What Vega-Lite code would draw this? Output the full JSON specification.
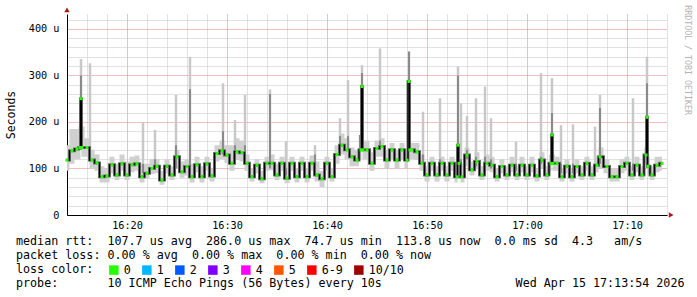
{
 "width": 600, "height": 201,
 "autosize": {"type": "none"},
 "padding": {"left": 67, "top": 14, "right": 30, "bottom": 82},
 "config": {"view": {"stroke": null},
   "axis": {"labelFont": "DejaVu Sans Mono", "titleFont": "DejaVu Sans Mono", "labelColor": "#000", "titleColor": "#000", "titleFontWeight": "normal"}},
 "title": {
   "text": ["median rtt:\u00a0\u00a0107.7 us avg\u00a0\u00a0286.0 us max\u00a0\u00a074.7 us min\u00a0\u00a0113.8 us now\u00a0\u00a00.0 ms sd\u00a0\u00a04.3\u00a0\u00a0\u00a0am/s",
            "packet loss: 0.00 % avg\u00a0\u00a00.00 % max\u00a0\u00a00.00 % min\u00a0\u00a00.00 % now",
            "loss color:",
            "probe:\u00a0\u00a0\u00a0\u00a0\u00a0\u00a0\u00a010 ICMP Echo Pings (56 Bytes) every 10s\u00a0\u00a0\u00a0\u00a0\u00a0\u00a0\u00a0\u00a0\u00a0\u00a0\u00a0\u00a0\u00a0\u00a0\u00a0\u00a0\u00a0\u00a0\u00a0Wed Apr 15 17:13:54 2026"],
   "orient": "bottom", "anchor": "start", "frame": "group", "dx": -51, "offset": -41,
   "font": "DejaVu Sans Mono", "fontSize": 11.7, "fontWeight": "normal", "color": "#000", "lineHeight": 14
 },
 "datasets": {
  "main": [
   {"t":"2026-04-15T16:14:00","med":118,"lo":95,"hi":150,"loss":"0"},
   {"t":"2026-04-15T16:14:30","med":138,"lo":110,"hi":185,"loss":"0"},
   {"t":"2026-04-15T16:15:00","med":142,"lo":120,"hi":185,"loss":"0"},
   {"t":"2026-04-15T16:15:18","med":145,"lo":120,"hi":190,"loss":"0"},
   {"t":"2026-04-15T16:15:24","med":250,"lo":140,"hi":255,"loss":"0"},
   {"t":"2026-04-15T16:15:30","med":145,"lo":125,"hi":190,"loss":"0"},
   {"t":"2026-04-15T16:16:00","med":145,"lo":125,"hi":165,"loss":"0"},
   {"t":"2026-04-15T16:16:30","med":118,"lo":100,"hi":140,"loss":"0"},
   {"t":"2026-04-15T16:17:00","med":112,"lo":95,"hi":130,"loss":"0"},
   {"t":"2026-04-15T16:17:30","med":82,"lo":70,"hi":105,"loss":"0"},
   {"t":"2026-04-15T16:18:00","med":84,"lo":70,"hi":100,"loss":"0"},
   {"t":"2026-04-15T16:18:30","med":108,"lo":90,"hi":125,"loss":"0"},
   {"t":"2026-04-15T16:19:00","med":86,"lo":75,"hi":110,"loss":"0"},
   {"t":"2026-04-15T16:19:30","med":110,"lo":95,"hi":130,"loss":"0"},
   {"t":"2026-04-15T16:20:00","med":86,"lo":75,"hi":115,"loss":"0"},
   {"t":"2026-04-15T16:20:30","med":108,"lo":92,"hi":125,"loss":"0"},
   {"t":"2026-04-15T16:21:00","med":110,"lo":95,"hi":128,"loss":"0"},
   {"t":"2026-04-15T16:21:30","med":82,"lo":70,"hi":110,"loss":"0"},
   {"t":"2026-04-15T16:22:00","med":90,"lo":78,"hi":110,"loss":"0"},
   {"t":"2026-04-15T16:22:30","med":100,"lo":88,"hi":120,"loss":"0"},
   {"t":"2026-04-15T16:23:00","med":105,"lo":90,"hi":120,"loss":"0"},
   {"t":"2026-04-15T16:23:30","med":75,"lo":65,"hi":95,"loss":"0"},
   {"t":"2026-04-15T16:24:00","med":105,"lo":90,"hi":120,"loss":"0"},
   {"t":"2026-04-15T16:24:30","med":86,"lo":75,"hi":105,"loss":"0"},
   {"t":"2026-04-15T16:25:00","med":125,"lo":100,"hi":140,"loss":"0"},
   {"t":"2026-04-15T16:25:30","med":93,"lo":80,"hi":115,"loss":"0"},
   {"t":"2026-04-15T16:26:00","med":104,"lo":85,"hi":120,"loss":"0"},
   {"t":"2026-04-15T16:26:30","med":82,"lo":70,"hi":110,"loss":"0"},
   {"t":"2026-04-15T16:27:00","med":108,"lo":92,"hi":125,"loss":"0"},
   {"t":"2026-04-15T16:27:30","med":82,"lo":70,"hi":105,"loss":"0"},
   {"t":"2026-04-15T16:28:00","med":110,"lo":95,"hi":125,"loss":"0"},
   {"t":"2026-04-15T16:28:30","med":84,"lo":72,"hi":100,"loss":"0"},
   {"t":"2026-04-15T16:29:00","med":132,"lo":115,"hi":150,"loss":"0"},
   {"t":"2026-04-15T16:29:30","med":138,"lo":120,"hi":160,"loss":"0"},
   {"t":"2026-04-15T16:30:00","med":129,"lo":112,"hi":150,"loss":"0"},
   {"t":"2026-04-15T16:30:30","med":111,"lo":95,"hi":150,"loss":"0"},
   {"t":"2026-04-15T16:31:00","med":136,"lo":118,"hi":165,"loss":"0"},
   {"t":"2026-04-15T16:31:30","med":134,"lo":115,"hi":160,"loss":"0"},
   {"t":"2026-04-15T16:32:00","med":111,"lo":95,"hi":130,"loss":"0"},
   {"t":"2026-04-15T16:32:30","med":82,"lo":72,"hi":100,"loss":"0"},
   {"t":"2026-04-15T16:33:00","med":107,"lo":90,"hi":120,"loss":"0"},
   {"t":"2026-04-15T16:33:30","med":78,"lo":68,"hi":95,"loss":"0"},
   {"t":"2026-04-15T16:34:00","med":111,"lo":95,"hi":125,"loss":"0"},
   {"t":"2026-04-15T16:34:30","med":111,"lo":96,"hi":130,"loss":"0"},
   {"t":"2026-04-15T16:35:00","med":86,"lo":75,"hi":110,"loss":"0"},
   {"t":"2026-04-15T16:35:30","med":111,"lo":95,"hi":125,"loss":"0"},
   {"t":"2026-04-15T16:36:00","med":79,"lo":68,"hi":95,"loss":"0"},
   {"t":"2026-04-15T16:36:30","med":111,"lo":95,"hi":125,"loss":"0"},
   {"t":"2026-04-15T16:37:00","med":82,"lo":70,"hi":100,"loss":"0"},
   {"t":"2026-04-15T16:37:30","med":111,"lo":95,"hi":125,"loss":"0"},
   {"t":"2026-04-15T16:38:00","med":82,"lo":70,"hi":100,"loss":"0"},
   {"t":"2026-04-15T16:38:30","med":111,"lo":95,"hi":128,"loss":"0"},
   {"t":"2026-04-15T16:39:00","med":86,"lo":72,"hi":115,"loss":"0"},
   {"t":"2026-04-15T16:39:30","med":78,"lo":60,"hi":95,"loss":"0"},
   {"t":"2026-04-15T16:40:00","med":111,"lo":95,"hi":125,"loss":"0"},
   {"t":"2026-04-15T16:40:30","med":82,"lo":72,"hi":100,"loss":"0"},
   {"t":"2026-04-15T16:41:00","med":130,"lo":110,"hi":150,"loss":"0"},
   {"t":"2026-04-15T16:41:30","med":150,"lo":130,"hi":175,"loss":"0"},
   {"t":"2026-04-15T16:42:00","med":140,"lo":120,"hi":165,"loss":"0"},
   {"t":"2026-04-15T16:42:30","med":125,"lo":105,"hi":145,"loss":"0"},
   {"t":"2026-04-15T16:43:00","med":118,"lo":105,"hi":140,"loss":"0"},
   {"t":"2026-04-15T16:43:24","med":140,"lo":120,"hi":172,"loss":"0"},
   {"t":"2026-04-15T16:43:30","med":276,"lo":140,"hi":290,"loss":"0"},
   {"t":"2026-04-15T16:43:36","med":140,"lo":120,"hi":160,"loss":"0"},
   {"t":"2026-04-15T16:44:00","med":140,"lo":120,"hi":160,"loss":"0"},
   {"t":"2026-04-15T16:44:30","med":111,"lo":95,"hi":135,"loss":"0"},
   {"t":"2026-04-15T16:45:00","med":143,"lo":125,"hi":160,"loss":"0"},
   {"t":"2026-04-15T16:45:30","med":147,"lo":125,"hi":165,"loss":"0"},
   {"t":"2026-04-15T16:46:00","med":118,"lo":100,"hi":140,"loss":"0"},
   {"t":"2026-04-15T16:46:30","med":140,"lo":120,"hi":155,"loss":"0"},
   {"t":"2026-04-15T16:47:00","med":118,"lo":100,"hi":140,"loss":"0"},
   {"t":"2026-04-15T16:47:30","med":140,"lo":118,"hi":155,"loss":"0"},
   {"t":"2026-04-15T16:48:00","med":118,"lo":100,"hi":140,"loss":"0"},
   {"t":"2026-04-15T16:48:12","med":287,"lo":140,"hi":300,"loss":"0"},
   {"t":"2026-04-15T16:48:18","med":140,"lo":120,"hi":160,"loss":"0"},
   {"t":"2026-04-15T16:48:30","med":140,"lo":120,"hi":155,"loss":"0"},
   {"t":"2026-04-15T16:49:00","med":136,"lo":118,"hi":155,"loss":"0"},
   {"t":"2026-04-15T16:49:30","med":111,"lo":95,"hi":130,"loss":"0"},
   {"t":"2026-04-15T16:50:00","med":86,"lo":72,"hi":105,"loss":"0"},
   {"t":"2026-04-15T16:50:30","med":111,"lo":95,"hi":125,"loss":"0"},
   {"t":"2026-04-15T16:51:00","med":86,"lo":72,"hi":105,"loss":"0"},
   {"t":"2026-04-15T16:51:30","med":111,"lo":95,"hi":125,"loss":"0"},
   {"t":"2026-04-15T16:52:00","med":86,"lo":72,"hi":105,"loss":"0"},
   {"t":"2026-04-15T16:52:30","med":111,"lo":95,"hi":125,"loss":"0"},
   {"t":"2026-04-15T16:53:00","med":82,"lo":70,"hi":100,"loss":"0"},
   {"t":"2026-04-15T16:53:06","med":150,"lo":90,"hi":170,"loss":"0"},
   {"t":"2026-04-15T16:53:12","med":111,"lo":95,"hi":125,"loss":"0"},
   {"t":"2026-04-15T16:53:30","med":82,"lo":70,"hi":110,"loss":"0"},
   {"t":"2026-04-15T16:54:00","med":129,"lo":105,"hi":145,"loss":"0"},
   {"t":"2026-04-15T16:54:30","med":97,"lo":85,"hi":115,"loss":"0"},
   {"t":"2026-04-15T16:55:00","med":115,"lo":98,"hi":135,"loss":"0"},
   {"t":"2026-04-15T16:55:30","med":86,"lo":75,"hi":105,"loss":"0"},
   {"t":"2026-04-15T16:56:00","med":111,"lo":95,"hi":130,"loss":"0"},
   {"t":"2026-04-15T16:56:30","med":107,"lo":92,"hi":125,"loss":"0"},
   {"t":"2026-04-15T16:57:00","med":82,"lo":72,"hi":100,"loss":"0"},
   {"t":"2026-04-15T16:57:30","med":104,"lo":90,"hi":120,"loss":"0"},
   {"t":"2026-04-15T16:58:00","med":86,"lo":75,"hi":105,"loss":"0"},
   {"t":"2026-04-15T16:58:30","med":107,"lo":92,"hi":125,"loss":"0"},
   {"t":"2026-04-15T16:59:00","med":86,"lo":75,"hi":105,"loss":"0"},
   {"t":"2026-04-15T16:59:30","med":107,"lo":92,"hi":125,"loss":"0"},
   {"t":"2026-04-15T17:00:00","med":86,"lo":75,"hi":105,"loss":"0"},
   {"t":"2026-04-15T17:00:30","med":107,"lo":92,"hi":125,"loss":"0"},
   {"t":"2026-04-15T17:01:00","med":84,"lo":72,"hi":100,"loss":"0"},
   {"t":"2026-04-15T17:01:30","med":118,"lo":100,"hi":135,"loss":"0"},
   {"t":"2026-04-15T17:02:00","med":86,"lo":75,"hi":105,"loss":"0"},
   {"t":"2026-04-15T17:02:24","med":111,"lo":95,"hi":130,"loss":"0"},
   {"t":"2026-04-15T17:02:30","med":172,"lo":110,"hi":200,"loss":"0"},
   {"t":"2026-04-15T17:02:36","med":111,"lo":95,"hi":130,"loss":"0"},
   {"t":"2026-04-15T17:03:00","med":111,"lo":95,"hi":125,"loss":"0"},
   {"t":"2026-04-15T17:03:30","med":82,"lo":72,"hi":100,"loss":"0"},
   {"t":"2026-04-15T17:04:00","med":105,"lo":90,"hi":120,"loss":"0"},
   {"t":"2026-04-15T17:04:30","med":82,"lo":72,"hi":100,"loss":"0"},
   {"t":"2026-04-15T17:05:00","med":104,"lo":90,"hi":120,"loss":"0"},
   {"t":"2026-04-15T17:05:30","med":86,"lo":75,"hi":105,"loss":"0"},
   {"t":"2026-04-15T17:06:00","med":111,"lo":95,"hi":125,"loss":"0"},
   {"t":"2026-04-15T17:06:30","med":86,"lo":75,"hi":105,"loss":"0"},
   {"t":"2026-04-15T17:07:00","med":107,"lo":92,"hi":125,"loss":"0"},
   {"t":"2026-04-15T17:07:18","med":125,"lo":100,"hi":145,"loss":"0"},
   {"t":"2026-04-15T17:08:00","med":104,"lo":90,"hi":120,"loss":"0"},
   {"t":"2026-04-15T17:08:30","med":82,"lo":72,"hi":100,"loss":"0"},
   {"t":"2026-04-15T17:09:00","med":82,"lo":72,"hi":100,"loss":"0"},
   {"t":"2026-04-15T17:09:30","med":104,"lo":90,"hi":120,"loss":"0"},
   {"t":"2026-04-15T17:10:00","med":111,"lo":95,"hi":125,"loss":"0"},
   {"t":"2026-04-15T17:10:30","med":86,"lo":75,"hi":105,"loss":"0"},
   {"t":"2026-04-15T17:11:00","med":107,"lo":92,"hi":125,"loss":"0"},
   {"t":"2026-04-15T17:11:30","med":86,"lo":75,"hi":105,"loss":"0"},
   {"t":"2026-04-15T17:11:54","med":129,"lo":110,"hi":145,"loss":"0"},
   {"t":"2026-04-15T17:12:00","med":210,"lo":120,"hi":230,"loss":"0"},
   {"t":"2026-04-15T17:12:06","med":105,"lo":90,"hi":125,"loss":"0"},
   {"t":"2026-04-15T17:12:30","med":86,"lo":75,"hi":105,"loss":"0"},
   {"t":"2026-04-15T17:13:00","med":107,"lo":92,"hi":125,"loss":"0"},
   {"t":"2026-04-15T17:13:30","med":111,"lo":95,"hi":125,"loss":"0"}
  ],
  "spikes": [
   {"t":"2026-04-15T16:15:24","base":140,"dark":300,"top":335},
   {"t":"2026-04-15T16:16:18","base":115,"dark":130,"top":326},
   {"t":"2026-04-15T16:21:36","base":90,"dark":110,"top":200},
   {"t":"2026-04-15T16:22:48","base":100,"dark":120,"top":183},
   {"t":"2026-04-15T16:24:54","base":100,"dark":150,"top":258},
   {"t":"2026-04-15T16:26:18","base":105,"dark":270,"top":340},
   {"t":"2026-04-15T16:29:36","base":130,"dark":180,"top":283},
   {"t":"2026-04-15T16:30:48","base":125,"dark":150,"top":204},
   {"t":"2026-04-15T16:31:48","base":120,"dark":150,"top":258},
   {"t":"2026-04-15T16:34:18","base":100,"dark":260,"top":270},
   {"t":"2026-04-15T16:35:54","base":85,"dark":100,"top":158},
   {"t":"2026-04-15T16:38:48","base":111,"dark":130,"top":150},
   {"t":"2026-04-15T16:41:18","base":130,"dark":170,"top":208},
   {"t":"2026-04-15T16:42:06","base":140,"dark":170,"top":290},
   {"t":"2026-04-15T16:43:18","base":140,"dark":172,"top":172},
   {"t":"2026-04-15T16:43:30","base":140,"dark":305,"top":322},
   {"t":"2026-04-15T16:45:18","base":140,"dark":160,"top":358},
   {"t":"2026-04-15T16:48:12","base":140,"dark":351,"top":352},
   {"t":"2026-04-15T16:49:36","base":110,"dark":130,"top":222},
   {"t":"2026-04-15T16:51:18","base":100,"dark":120,"top":251},
   {"t":"2026-04-15T16:53:06","base":110,"dark":300,"top":319},
   {"t":"2026-04-15T16:53:24","base":100,"dark":120,"top":240},
   {"t":"2026-04-15T16:54:00","base":120,"dark":140,"top":213},
   {"t":"2026-04-15T16:54:54","base":105,"dark":125,"top":251},
   {"t":"2026-04-15T16:55:48","base":105,"dark":125,"top":276},
   {"t":"2026-04-15T16:56:24","base":100,"dark":120,"top":208},
   {"t":"2026-04-15T16:58:54","base":95,"dark":110,"top":158},
   {"t":"2026-04-15T17:01:24","base":110,"dark":125,"top":305},
   {"t":"2026-04-15T17:02:30","base":120,"dark":219,"top":294},
   {"t":"2026-04-15T17:03:24","base":90,"dark":110,"top":193},
   {"t":"2026-04-15T17:04:36","base":90,"dark":110,"top":195},
   {"t":"2026-04-15T17:06:48","base":95,"dark":110,"top":190},
   {"t":"2026-04-15T17:07:18","base":110,"dark":230,"top":258},
   {"t":"2026-04-15T17:10:36","base":95,"dark":110,"top":251},
   {"t":"2026-04-15T17:12:00","base":120,"dark":283,"top":340}
  ]
 },
 "resolve": {"axis": {"x": "independent", "y": "independent"}},
 "layer": [
  {
   "data": {"name": "main"},
   "mark": {"type": "area", "interpolate": "step", "color": "#d0d0d0"},
   "encoding": {
    "x": {"field": "t", "type": "temporal",
          "scale": {"domain": [{"year":2026,"month":4,"date":15,"hours":16,"minutes":14},{"year":2026,"month":4,"date":15,"hours":17,"minutes":14}]},
          "axis": {"orient": "bottom", "values": [
             {"year":2026,"month":4,"date":15,"hours":16,"minutes":16},{"year":2026,"month":4,"date":15,"hours":16,"minutes":18},
             {"year":2026,"month":4,"date":15,"hours":16,"minutes":22},{"year":2026,"month":4,"date":15,"hours":16,"minutes":24},
             {"year":2026,"month":4,"date":15,"hours":16,"minutes":26},{"year":2026,"month":4,"date":15,"hours":16,"minutes":28},
             {"year":2026,"month":4,"date":15,"hours":16,"minutes":32},{"year":2026,"month":4,"date":15,"hours":16,"minutes":34},{"year":2026,"month":4,"date":15,"hours":16,"minutes":36},
             {"year":2026,"month":4,"date":15,"hours":16,"minutes":38},{"year":2026,"month":4,"date":15,"hours":16,"minutes":42},
             {"year":2026,"month":4,"date":15,"hours":16,"minutes":44},{"year":2026,"month":4,"date":15,"hours":16,"minutes":46},{"year":2026,"month":4,"date":15,"hours":16,"minutes":48},
             {"year":2026,"month":4,"date":15,"hours":16,"minutes":52},{"year":2026,"month":4,"date":15,"hours":16,"minutes":54},
             {"year":2026,"month":4,"date":15,"hours":16,"minutes":56},{"year":2026,"month":4,"date":15,"hours":16,"minutes":58},
             {"year":2026,"month":4,"date":15,"hours":17,"minutes":2},{"year":2026,"month":4,"date":15,"hours":17,"minutes":4},{"year":2026,"month":4,"date":15,"hours":17,"minutes":6},
             {"year":2026,"month":4,"date":15,"hours":17,"minutes":8},{"year":2026,"month":4,"date":15,"hours":17,"minutes":12},{"year":2026,"month":4,"date":15,"hours":17,"minutes":14}],
                   "grid": true, "gridColor": "#c4c4c4", "gridDash": [1,1], "ticks": false, "domain": false, "labels": false, "title": null}},
    "y": {"field": "lo", "type": "quantitative", "scale": {"domain": [0, 432], "nice": false, "zero": true},
          "axis": {"orient": "left", "values": [20,40,60,80,120,140,160,180,220,240,260,280,320,340,360,380,420], "grid": true,
                   "gridColor": "#c4c4c4", "gridDash": [1,1], "ticks": false, "domain": false, "labels": false, "title": null}},
    "y2": {"field": "hi"}
   }
  },
  {
   "data": {"name": "spikes"},
   "mark": {"type": "rule", "color": "#c8c8c8", "strokeWidth": 2.5},
   "encoding": {
    "x": {"field": "t", "type": "temporal", "axis": null},
    "y": {"field": "base", "type": "quantitative", "axis": null},
    "y2": {"field": "top"}
   }
  },
  {
   "data": {"name": "spikes"},
   "mark": {"type": "rule", "color": "#8a8a8a", "strokeWidth": 2},
   "encoding": {
    "x": {"field": "t", "type": "temporal", "axis": null},
    "y": {"field": "base", "type": "quantitative", "axis": null},
    "y2": {"field": "dark"}
   }
  },
  {
   "data": {"name": "main"},
   "mark": {"type": "line", "interpolate": "step", "color": "#707070", "strokeWidth": 3},
   "encoding": {
    "x": {"field": "t", "type": "temporal", "axis": null},
    "y": {"field": "med", "type": "quantitative", "axis": null}
   }
  },
  {
   "data": {"name": "main"},
   "mark": {"type": "line", "interpolate": "step", "color": "#000000", "strokeWidth": 1.2},
   "encoding": {
    "x": {"field": "t", "type": "temporal",
          "axis": {"orient": "bottom", "values": [
             {"year":2026,"month":4,"date":15,"hours":16,"minutes":20},{"year":2026,"month":4,"date":15,"hours":16,"minutes":30},
             {"year":2026,"month":4,"date":15,"hours":16,"minutes":40},{"year":2026,"month":4,"date":15,"hours":16,"minutes":50},
             {"year":2026,"month":4,"date":15,"hours":17,"minutes":0},{"year":2026,"month":4,"date":15,"hours":17,"minutes":10}],
                   "format": "%H:%M", "grid": true, "gridColor": "#e07f7f", "gridDash": [1,1], "ticks": false, "domain": true, "domainColor": "#000",
                   "labelFontSize": 10.2, "labelPadding": 5, "labelFlush": false, "title": null}},
    "y": {"field": "med", "type": "quantitative",
          "axis": {"orient": "left", "values": [0,100,200,300,400], "grid": true,
                   "gridColor": "#e07f7f", "gridDash": [1,1], "ticks": false, "domain": true, "domainColor": "#000",
                   "labelExpr": "datum.value == 0 ? '0\u00a0\u00a0' : datum.value + '\u00a0u'",
                   "labelFontSize": 10.2, "labelPadding": 8,
                   "title": "Seconds", "titleFontSize": 11.5, "titlePadding": 12}}
   }
  },
  {
   "data": {"name": "main"},
   "mark": {"type": "point", "shape": "square", "filled": true, "size": 9, "opacity": 1},
   "encoding": {
    "x": {"field": "t", "type": "temporal", "axis": null},
    "y": {"field": "med", "type": "quantitative", "axis": null},
    "color": {"field": "loss", "type": "nominal",
              "scale": {"domain": ["0","1","2","3","4","5","6-9","10/10"], "range": ["#26ff00","#00b8ff","#0059ff","#7e00ff","#ff00ff","#ff5500","#ff0000","#a10000"]},
              "legend": {"orient": "none", "legendX": 41, "legendY": 250, "direction": "horizontal", "title": null,
                         "labelFont": "DejaVu Sans Mono", "labelFontSize": 11.7, "labelColor": "#000",
                         "symbolType": "square", "symbolSize": 90}}
   }
  },
  {
   "data": {"values": [{}]},
   "mark": {"type": "point", "shape": "triangle-up", "filled": true, "color": "#a31d1d", "size": 30, "opacity": 1},
   "encoding": {
    "x": {"datum": {"year":2026,"month":4,"date":15,"hours":16,"minutes":14}, "type": "temporal", "axis": null},
    "y": {"datum": 441, "type": "quantitative", "axis": null}
   }
  },
  {
   "data": {"values": [{}]},
   "mark": {"type": "point", "shape": "triangle-right", "filled": true, "color": "#a31d1d", "size": 30, "opacity": 1},
   "encoding": {
    "x": {"datum": {"year":2026,"month":4,"date":15,"hours":17,"minutes":14,"seconds":25}, "type": "temporal", "axis": null},
    "y": {"datum": 0, "type": "quantitative", "axis": null}
   }
  },
  {
   "data": {"values": [{}]},
   "mark": {"type": "text", "text": "RRDTOOL / TOBI OETIKER", "angle": 90, "align": "left", "baseline": "middle", "font": "DejaVu Sans Mono", "fontSize": 8.3, "color": "#b4b4b4"},
   "encoding": {
    "x": {"datum": {"year":2026,"month":4,"date":15,"hours":17,"minutes":16}, "type": "temporal", "axis": null},
    "y": {"datum": 451, "type": "quantitative", "axis": null}
   }
  }
 ]
}
